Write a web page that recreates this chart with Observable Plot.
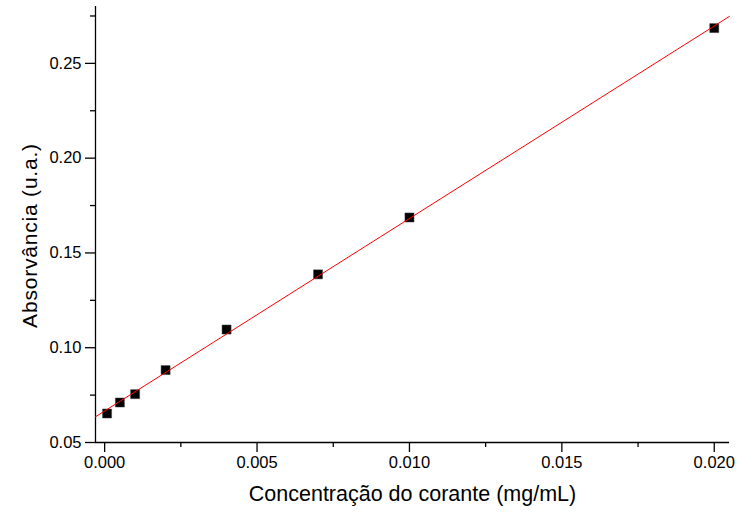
<!DOCTYPE html>
<html>
<head>
<meta charset="utf-8">
<script src="https://cdn.jsdelivr.net/npm/d3@7"></script>
<script src="https://cdn.jsdelivr.net/npm/@observablehq/plot@0.6"></script>
<style>
  html, body { margin: 0; padding: 0; background: #fff; }
  #chart { width: 737px; height: 515px; }
</style>
</head>
<body>
<div id="chart"></div>
<script>
// Curva de calibração: absorvância em função da concentração do corante
const concentracao = [0.00008, 0.0005, 0.001, 0.002, 0.004, 0.007, 0.010, 0.020];
const absorvancia = [0.0653, 0.0711, 0.0755, 0.0882, 0.1096, 0.1387, 0.1687, 0.2686];

const xMajor = [0, 0.005, 0.010, 0.015, 0.020];
const xMinor = [0.0025, 0.0075, 0.0125, 0.0175];
const yMajor = [0.05, 0.10, 0.15, 0.20, 0.25];
const yMinor = [0.075, 0.125, 0.175, 0.225, 0.275];

const tituloX = "Concentração do corante (mg/mL)";
const tituloY = "Absorvância (u.a.)";

const xDomain = [-0.0003, 0.0205];
const yDomain = [0.05, 0.28];

const pontos = concentracao.map((c, i) => ({c, a: absorvancia[i]}));

// Ajuste linear por mínimos quadrados
const mx = d3.mean(concentracao), my = d3.mean(absorvancia);
const sxy = d3.sum(pontos, d => (d.c - mx) * (d.a - my));
const sxx = d3.sum(pontos, d => (d.c - mx) ** 2);
const inclinacao = sxy / sxx;
const intercepto = my - inclinacao * mx;
const ajuste = xDomain.map(c => ({c, a: intercepto + inclinacao * c}));

const fonte = "Arial, 'Liberation Sans', sans-serif";

const chart = Plot.plot({
  width: 737,
  height: 515,
  marginLeft: 95,
  marginRight: 8,
  marginTop: 6,
  marginBottom: 73,
  x: {domain: xDomain},
  y: {domain: yDomain},
  style: {fontFamily: fonte, background: "#fff", color: "#000"},
  marks: [
    // eixos
    Plot.ruleX([xDomain[0]], {stroke: "#000", strokeWidth: 1.3}),
    Plot.ruleY([yDomain[0]], {stroke: "#000", strokeWidth: 1.3}),
    Plot.axisY(yMajor, {tickSize: 10, tickPadding: 4, tickFormat: d3.format(".2f"), fontSize: 16.5, label: null, strokeWidth: 1.3}),
    Plot.axisY(yMinor, {tickSize: 5, tickFormat: () => "", label: null, strokeWidth: 1.3}),
    Plot.axisX(xMajor, {tickSize: 10, tickPadding: 4, tickFormat: d3.format(".3f"), fontSize: 16.5, label: null, strokeWidth: 1.3}),
    Plot.axisX(xMinor, {tickSize: 5, tickFormat: () => "", label: null, strokeWidth: 1.3}),
    // pontos medidos
    Plot.dot(pontos, {x: "c", y: "a", symbol: "square", r: 5.1, fill: "#000", stroke: "#444", strokeWidth: 0.5}),
    // reta ajustada
    Plot.line(ajuste, {x: "c", y: "a", stroke: "#ff0000", strokeWidth: 1}),
    // títulos dos eixos
    Plot.text([tituloX], {frameAnchor: "bottom", textAnchor: "middle", dy: 58, fontSize: 21.5}),
    Plot.text([tituloY], {frameAnchor: "left", textAnchor: "middle", rotate: -90, dx: -65, dy: 11, fontSize: 21})
  ]
});

// espaçamento entre letras do título vertical
d3.select(chart).selectAll("text")
  .filter(function () { return this.textContent === tituloY; })
  .attr("letter-spacing", "0.8px");

document.getElementById("chart").appendChild(chart);
</script>
</body>
</html>
